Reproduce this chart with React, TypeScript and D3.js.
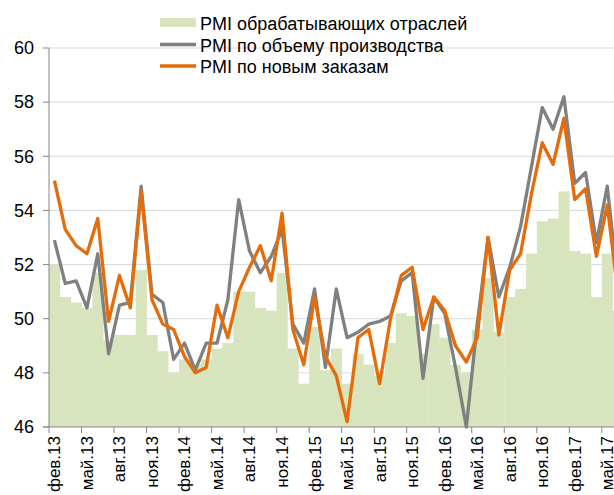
import React from 'react';
import * as d3 from 'd3';

const months = [
  'фев.13', 'мар.13', 'апр.13', 'май.13', 'июн.13', 'июл.13', 'авг.13', 'сен.13', 'окт.13', 'ноя.13', 'дек.13',
  'янв.14', 'фев.14', 'мар.14', 'апр.14', 'май.14', 'июн.14', 'июл.14', 'авг.14', 'сен.14', 'окт.14', 'ноя.14', 'дек.14',
  'янв.15', 'фев.15', 'мар.15', 'апр.15', 'май.15', 'июн.15', 'июл.15', 'авг.15', 'сен.15', 'окт.15', 'ноя.15', 'дек.15',
  'янв.16', 'фев.16', 'мар.16', 'апр.16', 'май.16', 'июн.16', 'июл.16', 'авг.16', 'сен.16', 'окт.16', 'ноя.16', 'дек.16',
  'янв.17', 'фев.17', 'мар.17', 'апр.17', 'май.17', 'июн.17',
];

// PMI обрабатывающих отраслей (bars)
const pmiManufacturing = [
  52.0, 50.8, 50.6, 50.4, 51.7, 49.2, 49.4, 49.4, 51.8, 49.4, 48.8,
  48.0, 48.5, 48.3, 48.5, 48.9, 49.1, 51.0, 51.0, 50.4, 50.3, 51.7, 48.9,
  47.6, 49.7, 48.1, 48.9, 47.6, 48.7, 48.3, 47.9, 49.1, 50.2, 50.1, 48.7,
  49.8, 49.3, 48.3, 48.0, 49.6, 51.5, 49.5, 50.8, 51.1, 52.4, 53.6, 53.7,
  54.7, 52.5, 52.4, 50.8, 52.4, 50.3,
];

// PMI по объему производства (gray line)
const pmiOutput = [
  52.9, 51.3, 51.4, 50.4, 52.4, 48.7, 50.5, 50.6, 54.9, 50.9, 50.6,
  48.5, 49.1, 48.1, 49.1, 49.1, 50.7, 54.4, 52.5, 51.7, 52.3, 53.3, 49.8,
  49.1, 51.1, 48.2, 51.1, 49.3, 49.5, 49.8, 49.9, 50.1, 51.4, 51.7, 47.8,
  50.8, 50.2, 48.2, 46.0, 49.8, 53.0, 50.8, 51.9, 53.4, 55.6, 57.8, 57.0,
  58.2, 55.0, 55.4, 52.8, 54.9, 51.2,
];

// PMI по новым заказам (orange line)
const pmiNewOrders = [
  55.1, 53.3, 52.7, 52.4, 53.7, 49.9, 51.6, 50.4, 54.7, 50.7, 49.8,
  49.6, 48.6, 48.0, 48.2, 50.5, 49.3, 51.0, 51.9, 52.7, 51.4, 53.9, 49.6,
  48.3, 50.8, 48.6, 47.9, 46.2, 49.3, 49.6, 47.6, 50.0, 51.6, 51.9, 49.6,
  50.8, 50.3, 49.0, 48.4, 49.3, 53.0, 49.4, 51.8, 52.4, 54.6, 56.5, 55.7,
  57.4, 54.4, 54.8, 52.3, 54.2, 50.9,
];

const yTicks = [46, 48, 50, 52, 54, 56, 58, 60];

const legendItems = [
  { name: 'PMI обрабатывающих отраслей', kind: 'bar' },
  { name: 'PMI по объему производства', kind: 'gray' },
  { name: 'PMI по новым заказам', kind: 'orange' },
];

const W = 614;
const H = 495;
const FONT = '"Liberation Sans", Arial, sans-serif';
const BAR = '#d7e4bd';
const GRAY = '#808080';
const ORANGE = '#e46c0a';

export default function App() {
  const left = 49;
  const step = 10.84;
  const x = d3
    .scaleBand<number>()
    .domain(months.map((_, i) => i))
    .range([left, left + step * months.length])
    .padding(0);
  const y = d3.scaleLinear().domain([46, 60]).range([427, 48]);

  const cx = (i: number) => (x(i) as number) + x.bandwidth() / 2;
  const line = d3
    .line<number>()
    .x((_, i) => cx(i))
    .y((d) => y(d));

  // a tick + label every third month
  const tickIdx = months.map((_, i) => i).filter((i) => i % 3 === 0);

  return (
    <svg
      width={W}
      height={H}
      style={{ position: 'absolute', left: 0, top: 0, background: '#fff' }}
      fontFamily={FONT}
    >
      {yTicks.slice(1).map((t) => (
        <line key={t} x1={left} x2={W} y1={y(t)} y2={y(t)} stroke="#d9d9d9" strokeWidth={1} />
      ))}

      {pmiManufacturing.map((v, i) => (
        <rect
          key={i}
          x={x(i)}
          y={y(v)}
          width={x.bandwidth() + 0.3}
          height={y(46) - y(v)}
          fill={BAR}
        />
      ))}

      <path d={line(pmiOutput) || ''} fill="none" stroke={GRAY} strokeWidth={3.3} strokeLinejoin="round" />
      <path d={line(pmiNewOrders) || ''} fill="none" stroke={ORANGE} strokeWidth={3.3} strokeLinejoin="round" />

      <line x1={left} x2={left} y1={y(60)} y2={y(46)} stroke="#868686" strokeWidth={1} />
      <line x1={left - 6} x2={W} y1={y(46)} y2={y(46)} stroke="#868686" strokeWidth={1} />
      {yTicks.map((t) => (
        <g key={t}>
          <line x1={left - 6} x2={left} y1={y(t)} y2={y(t)} stroke="#868686" />
          <text x={34} y={y(t)} dy="0.35em" textAnchor="end" fontSize={18} fill="#000">
            {t}
          </text>
        </g>
      ))}
      {tickIdx.map((i) => (
        <g key={i}>
          <line x1={x(i)} x2={x(i)} y1={y(46)} y2={y(46) + 6} stroke="#868686" />
          <text
            transform={`translate(${cx(i)},${436}) rotate(-90)`}
            dy="0.35em"
            textAnchor="end"
            fontSize={17}
            fill="#000"
          >
            {months[i]}
          </text>
        </g>
      ))}

      {legendItems.map((it, k) => {
        const base = 30 + k * 21.5;
        return (
          <g key={it.name}>
            {it.kind === 'bar' ? (
              <rect x={160} y={base - 12} width={36} height={9} fill={BAR} />
            ) : (
              <line
                x1={160}
                x2={196}
                y1={base - 7}
                y2={base - 7}
                stroke={it.kind === 'gray' ? GRAY : ORANGE}
                strokeWidth={3.5}
              />
            )}
            <text x={200} y={base} fontSize={18} fill="#000">
              {it.name}
            </text>
          </g>
        );
      })}
    </svg>
  );
}
